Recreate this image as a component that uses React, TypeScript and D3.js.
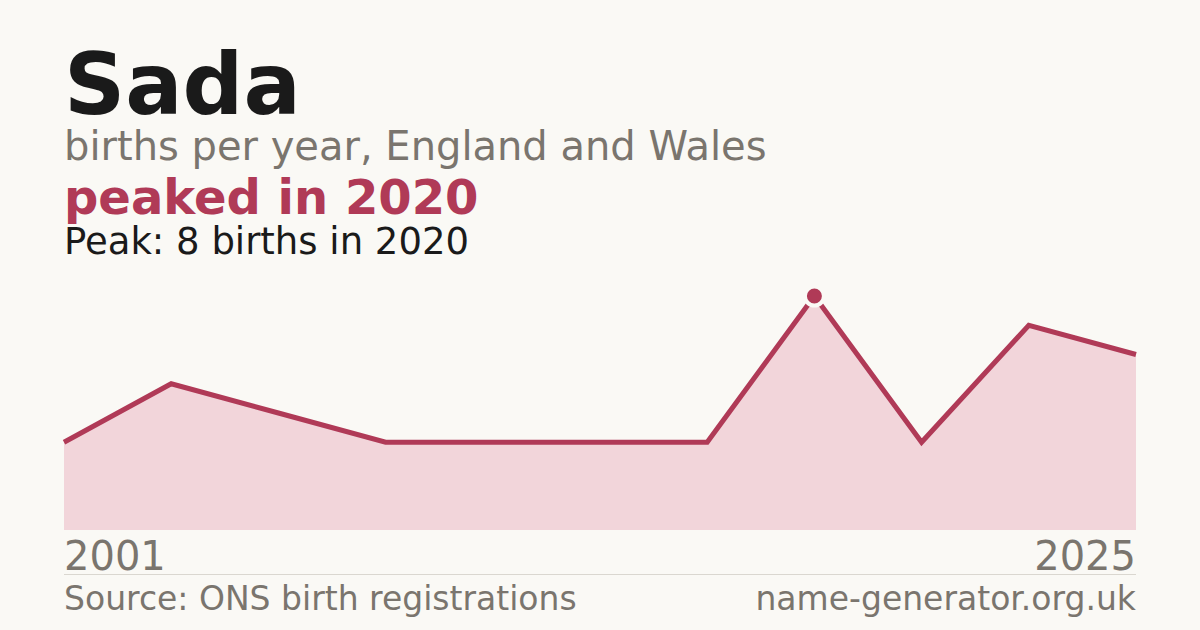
import * as d3 from 'd3';
import { useEffect, useRef } from 'react';

const years = ['2001', '2003', '2006', '2009', '2012', '2015', '2018', '2020', '2021', '2023', '2025'];
const births = [3, 5, 4, 3, 3, 3, 3, 8, 3, 7, 6];
const peakYear = '2020';
const peakValue = 8;

const title = 'Sada';
const subtitle = 'births per year, England and Wales';
const headline = 'peaked in 2020';
const peakNote = 'Peak: 8 births in 2020';
const sourceText = 'Source: ONS birth registrations';
const siteText = 'name-generator.org.uk';

const BG = '#faf9f5';
const INK = '#1a1a1a';
const MUTED = '#7a756e';
const ACCENT = '#b03a57';
const FILL = '#f2d5da';
const FONT = '"DejaVu Sans", sans-serif';

const App = () => {
  const svgRef = useRef<SVGSVGElement | null>(null);

  useEffect(() => {
    if (!svgRef.current) return;
    const width = 1200;
    const height = 630;
    const left = 64;
    const right = 1136;

    const svg = d3.select(svgRef.current)
      .html('')
      .attr('width', width)
      .attr('height', height)
      .style('font-family', FONT);

    svg.append('rect')
      .attr('width', width)
      .attr('height', height)
      .attr('fill', BG);

    // header
    svg.append('text')
      .attr('x', left).attr('y', 114)
      .attr('fill', INK)
      .style('font-size', '85px')
      .style('font-weight', 'bold')
      .text(title);

    svg.append('text')
      .attr('x', left).attr('y', 160)
      .attr('fill', MUTED)
      .style('font-size', '40px')
      .text(subtitle);

    svg.append('text')
      .attr('x', left).attr('y', 214)
      .attr('fill', ACCENT)
      .style('font-size', '48px')
      .style('font-weight', 'bold')
      .text(headline);

    svg.append('text')
      .attr('x', left).attr('y', 254)
      .attr('fill', INK)
      .style('font-size', '37px')
      .text(peakNote);

    // chart
    const xScale = d3.scalePoint<string>()
      .domain(years)
      .range([left, right])
      .padding(0);

    const yScale = d3.scaleLinear()
      .domain([0, peakValue])
      .range([530, 296]);

    const area = d3.area<number>()
      .x((_, i) => xScale(years[i])!)
      .y0(yScale(0))
      .y1(d => yScale(d));

    const line = d3.line<number>()
      .x((_, i) => xScale(years[i])!)
      .y(d => yScale(d));

    svg.append('path')
      .datum(births)
      .attr('fill', FILL)
      .attr('d', area);

    svg.append('path')
      .datum(births)
      .attr('fill', 'none')
      .attr('stroke', ACCENT)
      .attr('stroke-width', 5)
      .attr('stroke-linejoin', 'miter')
      .attr('d', line);

    svg.append('circle')
      .attr('cx', xScale(peakYear)!)
      .attr('cy', yScale(peakValue))
      .attr('r', 9.5)
      .attr('fill', ACCENT)
      .attr('stroke', BG)
      .attr('stroke-width', 4);

    // year labels
    svg.append('text')
      .attr('x', left).attr('y', 570)
      .attr('fill', MUTED)
      .style('font-size', '40px')
      .text(years[0]);

    svg.append('text')
      .attr('x', right).attr('y', 570)
      .attr('fill', MUTED)
      .attr('text-anchor', 'end')
      .style('font-size', '40px')
      .text(years[years.length - 1]);

    // footer
    svg.append('line')
      .attr('x1', left).attr('x2', right)
      .attr('y1', 574.5).attr('y2', 574.5)
      .attr('stroke', '#dad7d0')
      .attr('stroke-width', 1);

    svg.append('text')
      .attr('x', left).attr('y', 610)
      .attr('fill', MUTED)
      .style('font-size', '33px')
      .text(sourceText);

    svg.append('text')
      .attr('x', right).attr('y', 610)
      .attr('fill', MUTED)
      .attr('text-anchor', 'end')
      .style('font-size', '33px')
      .text(siteText);
  }, []);

  return (
    <div style={{ position: 'fixed', left: 0, top: 0, width: 1200, height: 630, background: BG }}>
      <svg ref={svgRef} style={{ display: 'block' }} />
    </div>
  );
};

export default App;
